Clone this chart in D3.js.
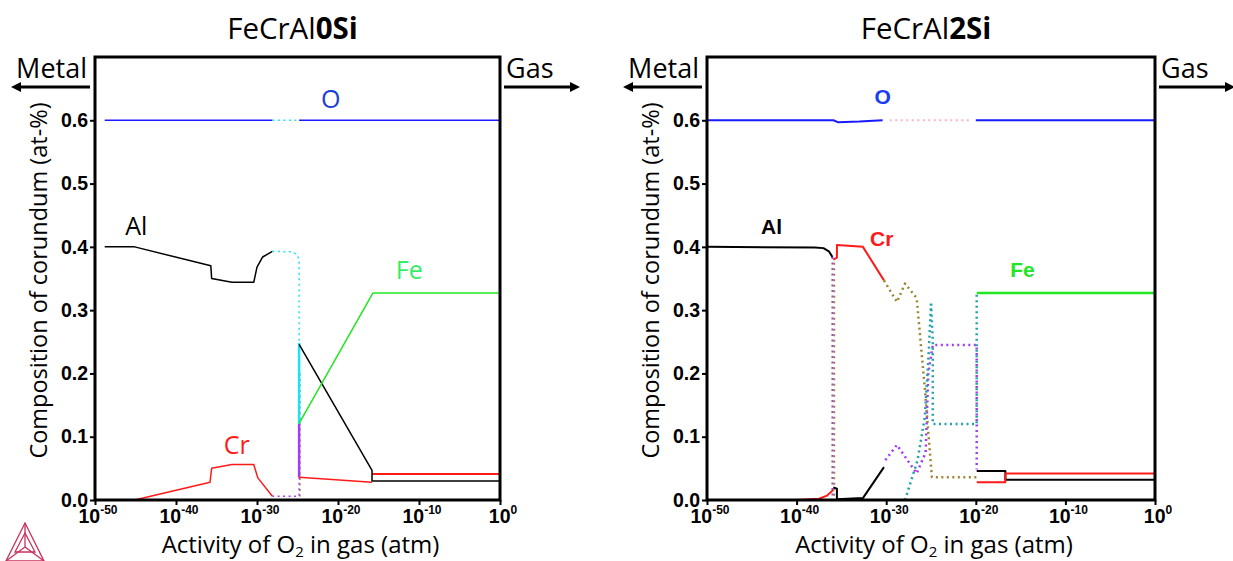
<!DOCTYPE html>
<html>
<head>
<meta charset="utf-8">
<script src="https://cdn.jsdelivr.net/npm/d3@7"></script>
<style>
body { margin: 0; background: #fff; }
svg { display: block; }
.tick line { stroke: #000; stroke-width: 2; }
.domain { display: none; }
.tick text { font-family: "Liberation Sans", Arial, sans-serif; font-weight: bold; font-size: 19.5px; fill: #000; }
.lbl { font-family: "Open Sans", sans-serif; }
</style>
</head>
<body>
<div id="chart"></div>
<script>
// x values are log10 of O2 activity, y values are corundum composition
var xTicks = [-50, -40, -30, -20, -10, 0];
var yTicks = [0, 0.1, 0.2, 0.3, 0.4, 0.5, 0.6];

// FeCrAl0Si
var l_O1 = [[-48.8, 0.6], [-28.1, 0.6]];
var l_O2 = [[-28.1, 0.6], [-24.9, 0.6]];
var l_O3 = [[-24.8, 0.6], [0, 0.6]];
var l_Al1 = [[-48.8, 0.4], [-45.1, 0.4], [-35.7, 0.37], [-35.6, 0.35], [-33.1, 0.344], [-30.4, 0.344], [-30.0, 0.368], [-29.3, 0.384], [-28.1, 0.393]];
var l_cyanDot = [[-28.1, 0.393], [-25.6, 0.392], [-25.0, 0.387], [-24.8, 0.378], [-24.8, 0.248]];
var l_cyan = [[-24.8, 0.248], [-24.8, 0.12]];
var l_purple = [[-24.8, 0.12], [-24.8, 0.036]];
var l_purpleDot = [[-24.8, 0.036], [-24.8, 0.006], [-28.1, 0.006]];
var l_oliveDot = [[-24.7, 0.2], [-24.7, 0.004]];
var l_Cr1 = [[-45.1, 0], [-35.8, 0.028], [-35.6, 0.05], [-33.1, 0.056], [-30.4, 0.056], [-29.9, 0.035], [-28.1, 0.006]];
var l_Cr2 = [[-24.8, 0.036], [-15.8, 0.028]];
var l_Cr3 = [[-15.8, 0.041], [0, 0.041]];
var l_Al2 = [[-24.8, 0.246], [-15.8, 0.047], [-15.8, 0.03], [0, 0.03]];
var l_Fe = [[-24.8, 0.121], [-15.7, 0.327], [0, 0.327]];

// FeCrAl2Si
var r_O1 = [[-50, 0.6], [-35.9, 0.6], [-35.4, 0.597], [-33, 0.598], [-30.4, 0.6]];
var r_O2 = [[-29.6, 0.6], [-20.4, 0.6]];
var r_O3 = [[-20, 0.6], [0, 0.6]];
var r_Al1 = [[-50, 0.4], [-38, 0.399], [-37.0, 0.398], [-36.4, 0.393], [-36.0, 0.384]];
var r_Cr1 = [[-35.9, 0.38], [-35.5, 0.383], [-35.5, 0.403], [-32.6, 0.4], [-30.25, 0.347]];
var r_oliveDot = [[-30.25, 0.347], [-28.8, 0.313], [-27.9, 0.342], [-26.6, 0.319], [-25.7, 0.178], [-24.9, 0.036], [-19.9, 0.036]];
var r_oliveV = [[-35.8, 0.375], [-35.8, 0.0]];
var r_purpleV = [[-36.0, 0.384], [-36.0, 0.0]];
var r_Cr0 = [[-40, 0], [-37.5, 0.002], [-36.6, 0.007], [-35.9, 0.016]];
var r_Al0 = [[-35.9, 0.02], [-35.5, 0.018], [-35.5, 0.001], [-32.6, 0.003], [-30.25, 0.052]];
var r_purpleDot = [[-30.1, 0.063], [-28.8, 0.087], [-26.6, 0.042], [-25.6, 0.075], [-25.3, 0.2], [-24.8, 0.245], [-19.9, 0.245], [-19.9, 0.048]];
var r_teal1 = [[-27.9, 0.0], [-26.5, 0.063], [-25.7, 0.13], [-25.3, 0.22], [-25.0, 0.31]];
var r_teal2 = [[-25.0, 0.31], [-24.8, 0.25], [-24.8, 0.12], [-19.9, 0.12], [-19.9, 0.327]];
var r_Fe = [[-19.9, 0.327], [0, 0.327]];
var r_Al2 = [[-19.9, 0.046], [-16.7, 0.046], [-16.7, 0.032], [0, 0.032]];
var r_Cr2 = [[-19.9, 0.028], [-16.7, 0.028], [-16.7, 0.042], [0, 0.042]];

var BLUE = "#1a1aff", CYAN = "#19e3f5", PURPLE = "#a23cf5", OLIVE = "#9a8530",
    RED = "#ff1a1a", GREEN = "#22e622", TEAL = "#1fa3a8", PINK = "#ffb3c1";

var svg = d3.select("#chart").append("svg")
    .attr("width", 1233)
    .attr("height", 561);

svg.append("rect").attr("width", 1233).attr("height", 561).attr("fill", "#fff");

function create_panel(left, right, title, bold, series, labels, lw) {
  var top = 57, bottom = 500;
  var x = d3.scaleLinear().domain([-50, 0]).range([left, right]);
  var y = d3.scaleLinear().domain([0, 0.7]).range([bottom, top]);

  var g = svg.append("g");

  // series
  var line = d3.line()
      .x(function(d) { return x(d[0]); })
      .y(function(d) { return y(d[1]); });

  series.forEach(function(s) {
    g.append("path")
        .attr("d", line(s.data))
        .attr("fill", "none")
        .attr("stroke", s.color)
        .attr("stroke-width", s.w || lw)
        .attr("stroke-linejoin", "round")
        .attr("stroke-dasharray", s.dot ? "2,3.5" : null);
  });

  // frame
  g.append("rect")
      .attr("x", left).attr("y", top)
      .attr("width", right - left).attr("height", bottom - top)
      .attr("fill", "none").attr("stroke", "#000").attr("stroke-width", 3);

  var xAxis = d3.axisBottom(x).tickValues(xTicks).tickSize(5).tickFormat("");
  var yAxis = d3.axisLeft(y).tickValues(yTicks).tickSize(5).tickPadding(2).tickFormat(d3.format(".1f"));

  g.append("g")
      .attr("transform", "translate(0," + bottom + ")")
      .call(xAxis);
  g.append("g")
      .attr("transform", "translate(" + left + ",0)")
      .call(yAxis);

  // x tick labels 10^n
  xTicks.forEach(function(t) {
    var tx = g.append("text")
        .attr("x", x(t) + 3).attr("y", 523)
        .attr("text-anchor", "middle")
        .style("font-family", "Liberation Sans, Arial, sans-serif")
        .style("font-weight", "bold").style("font-size", "19.5px");
    tx.append("tspan").text("10");
    tx.append("tspan").attr("dy", -9).style("font-size", "12px").text(t);
  });

  // titles
  var tt = g.append("text").attr("class", "lbl")
      .attr("x", (left + right) / 2 - 5).attr("y", 39)
      .attr("text-anchor", "middle").style("font-size", "29.5px");
  tt.append("tspan").text(title);
  tt.append("tspan").style("font-weight", "bold").text(bold);

  g.append("text").attr("class", "lbl")
      .attr("text-anchor", "middle").style("font-size", "23.5px")
      .text("Composition of corundum (at-%)")
      .attr("transform", "translate(" + (left - 48) + "," + ((top + bottom) / 2 + 2) + ") rotate(-90)");

  var xl = g.append("text").attr("class", "lbl")
      .attr("x", (left + right) / 2 + 3).attr("y", 553)
      .attr("text-anchor", "middle").style("font-size", "24px");
  xl.append("tspan").text("Activity of O");
  xl.append("tspan").attr("dy", 4).style("font-size", "15px").text("2");
  xl.append("tspan").attr("dy", -4).text(" in gas (atm)");

  // Metal / Gas arrows
  g.append("text").attr("class", "lbl")
      .attr("x", left - 8).attr("y", 78).attr("text-anchor", "end")
      .style("font-size", "27px").text("Metal");
  g.append("text").attr("class", "lbl")
      .attr("x", right + 6).attr("y", 78)
      .style("font-size", "27px").text("Gas");
  arrow(g, left - 5, left - 84, 87);
  arrow(g, right + 4, right + 80, 87);

  labels.forEach(function(l) {
    g.append("text").attr("class", "lbl")
        .attr("x", x(l.x)).attr("y", y(l.y))
        .attr("text-anchor", "middle")
        .style("font-size", l.bold ? "21px" : "25px")
        .style("font-family", l.bold ? "Liberation Sans, Arial, sans-serif" : null)
        .style("font-weight", l.bold ? "bold" : null)
        .attr("fill", l.color).text(l.text);
  });
}

function arrow(g, x0, x1, yy) {
  var dir = x1 > x0 ? 1 : -1;
  g.append("line")
      .attr("x1", x0).attr("x2", x1 - dir * 6)
      .attr("y1", yy).attr("y2", yy)
      .attr("stroke", "#000").attr("stroke-width", 3);
  g.append("path")
      .attr("d", "M" + x1 + "," + yy + "L" + (x1 - dir * 10) + "," + (yy - 5) + "L" + (x1 - dir * 10) + "," + (yy + 5) + "Z")
      .attr("fill", "#000");
}

create_panel(95, 500, "FeCrAl", "0Si", [
  {data: l_O1, color: BLUE},
  {data: l_O2, color: CYAN, dot: true},
  {data: l_O3, color: BLUE},
  {data: l_oliveDot, color: OLIVE, dot: true},
  {data: l_Al1, color: "#000"},
  {data: l_cyanDot, color: CYAN, dot: true},
  {data: l_cyan, color: CYAN, w: 2.5},
  {data: l_purple, color: PURPLE, w: 2.5},
  {data: l_purpleDot, color: PURPLE, dot: true},
  {data: l_Cr1, color: RED},
  {data: l_Cr2, color: RED},
  {data: l_Cr3, color: RED, w: 2},
  {data: l_Al2, color: "#000"},
  {data: l_Fe, color: GREEN}
], [
  {text: "O", x: -20.9, y: 0.619, color: "#1a3cd8"},
  {text: "Al", x: -44.9, y: 0.418, color: "#000"},
  {text: "Fe", x: -11.2, y: 0.35, color: "#33ee66"},
  {text: "Cr", x: -32.5, y: 0.073, color: RED}
], 1.5);

create_panel(707, 1155, "FeCrAl", "2Si", [
  {data: r_O1, color: BLUE},
  {data: r_O2, color: PINK, dot: true},
  {data: r_O3, color: BLUE},
  {data: r_purpleV, color: PURPLE, dot: true},
  {data: r_oliveV, color: OLIVE, dot: true},
  {data: r_Al1, color: "#000"},
  {data: r_Cr1, color: RED},
  {data: r_oliveDot, color: OLIVE, dot: true, w: 2.5},
  {data: r_Cr0, color: RED},
  {data: r_Al0, color: "#000"},
  {data: r_purpleDot, color: PURPLE, dot: true, w: 2.5},
  {data: r_teal1, color: TEAL, dot: true, w: 2.5},
  {data: r_teal2, color: TEAL, dot: true, w: 2.5},
  {data: r_Fe, color: GREEN, w: 2.5},
  {data: r_Al2, color: "#000"},
  {data: r_Cr2, color: RED}
], [
  {text: "O", x: -30.4, y: 0.625, color: "#1a3cf0", bold: true},
  {text: "Al", x: -42.8, y: 0.42, color: "#000", bold: true},
  {text: "Cr", x: -30.5, y: 0.401, color: RED, bold: true},
  {text: "Fe", x: -14.8, y: 0.353, color: "#22e622", bold: true}
], 2);

// Thermo-Calc logo
var logo = svg.append("g").attr("stroke", "#c8325e").attr("fill", "none").attr("stroke-width", 1.3);
logo.append("path").attr("d", "M25,523L6,561L44,561Z");
logo.append("path").attr("d", "M25,523L25,547L6,561M25,547L44,561");
logo.append("path").attr("d", "M25,533L15,552L35,552Z");
</script>
</body>
</html>
